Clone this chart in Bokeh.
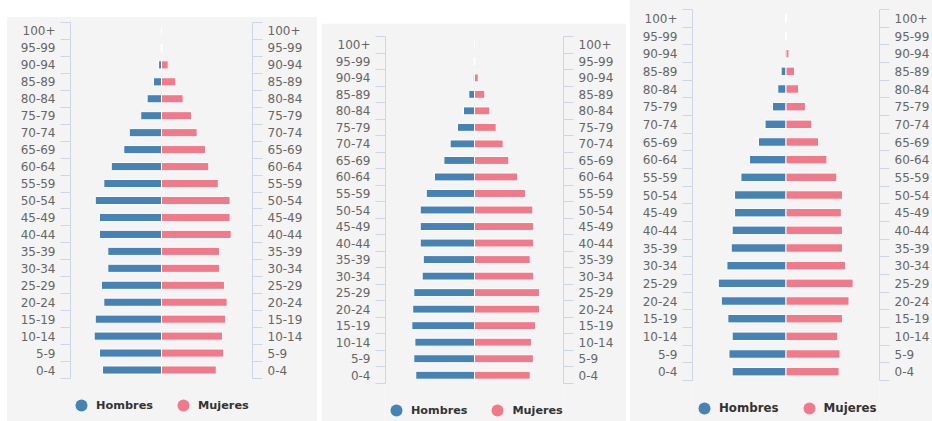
from bokeh.plotting import figure
from bokeh.layouts import row
from bokeh.models import FixedTicker, LinearAxis, Legend, LegendItem, Range1d
from bokeh.embed import file_html
from bokeh.resources import INLINE

# Age groups, bottom to top
age_groups = ["0-4", "5-9", "10-14", "15-19", "20-24", "25-29", "30-34", "35-39",
              "40-44", "45-49", "50-54", "55-59", "60-64", "65-69", "70-74", "75-79",
              "80-84", "85-89", "90-94", "95-99", "100+"]

# Panel 1 (% of population)
hombres_1 = [3.24, 3.41, 3.70, 3.64, 3.17, 3.30, 2.95, 2.95, 3.41, 3.41, 3.64,
             3.17, 2.76, 2.07, 1.77, 1.14, 0.79, 0.44, 0.16, 0.02, 0.0]
mujeres_1 = [3.01, 3.42, 3.35, 3.53, 3.61, 3.46, 3.19, 3.19, 3.83, 3.77, 3.77,
             3.12, 2.60, 2.42, 1.96, 1.65, 1.19, 0.79, 0.37, 0.05, 0.0]

# Panel 2
hombres_2 = [3.30, 3.41, 3.35, 3.52, 3.47, 3.41, 2.94, 2.88, 3.05, 3.05, 3.05,
             2.71, 2.25, 1.72, 1.37, 0.96, 0.62, 0.32, 0.07, 0.02, 0.0]
mujeres_2 = [3.13, 3.31, 3.20, 3.43, 3.65, 3.65, 3.33, 3.13, 3.33, 3.33, 3.28,
             2.87, 2.43, 1.93, 1.61, 1.22, 0.86, 0.58, 0.21, 0.02, 0.0]

# Panel 3
hombres_3 = [2.88, 3.05, 2.88, 3.11, 3.46, 3.62, 3.16, 2.93, 2.88, 2.75, 2.75,
             2.41, 1.95, 1.47, 1.12, 0.72, 0.44, 0.26, 0.07, 0.02, 0.0]
mujeres_3 = [2.84, 2.89, 2.77, 3.02, 3.37, 3.59, 3.19, 3.02, 3.02, 2.96, 3.02,
             2.72, 2.19, 1.74, 1.38, 1.04, 0.68, 0.46, 0.16, 0.02, 0.0]

series_names = ["Hombres", "Mujeres"]

BLUE = "#4682b4"
PINK = "#f07a8a"
BG = "#f4f4f4"
AXIS = "#ccd6eb"
LABEL = "#666666"


def pyramid(hombres, mujeres, width, height, top, left, right, rows_px,
            fig_margin, font_size, standoff, legend_font, legend_loc,
            white_top=0):
    n = len(age_groups)
    below_px = height - top - rows_px
    ext = n * below_px / rows_px
    p = figure(width=width, height=height,
               x_range=Range1d(-5, 5), y_range=Range1d(-ext, n),
               output_backend="svg", toolbar_location=None,
               x_axis_location=None, y_axis_location=None,
               min_border_top=top, min_border_right=right,
               min_border_bottom=0, min_border_left=left,
               background_fill_color=BG, border_fill_color=BG,
               outline_line_color=None, margin=fig_margin)
    if white_top:
        # white strip above the grey panel, grey below it
        p.border_fill_color = None
        p.styles = {"background": f"linear-gradient(to bottom, #ffffff 0px, #ffffff {white_top}px, "
                                  f"{BG} {white_top}px, {BG} 100%)"}
    p.grid.visible = False

    ypos = [i + 0.5 for i in range(n)]
    left_vals = [-v for v in hombres]
    # zero-size markers: only their legend glyphs (circles) are visible
    rh = p.scatter(x=left_vals, y=ypos, size=0, marker="circle",
                   fill_color=BLUE, line_color=BLUE, line_alpha=0)
    rm = p.scatter(x=mujeres, y=ypos, size=0, marker="circle",
                   fill_color=PINK, line_color=PINK, line_alpha=0)

    p.hbar(y=ypos, left=left_vals, right=0, height=0.48,
           fill_color=BLUE, line_color="white", line_width=1)
    p.hbar(y=ypos, left=0, right=mujeres, height=0.48,
           fill_color=PINK, line_color="white", line_width=1)

    ticker = FixedTicker(ticks=ypos, minor_ticks=list(range(n + 1)))
    overrides = {y: lab for y, lab in zip(ypos, age_groups)}
    for side in ("left", "right"):
        ax = LinearAxis(ticker=ticker, major_label_overrides=overrides,
                        bounds=(0, n),
                        axis_line_color=AXIS, axis_line_width=1,
                        major_tick_in=0, major_tick_out=0,
                        major_tick_line_color=None,
                        minor_tick_in=0, minor_tick_out=10,
                        minor_tick_line_color=AXIS,
                        major_label_standoff=standoff,
                        major_label_text_font="DejaVu Sans",
                        major_label_text_font_size=font_size,
                        major_label_text_color=LABEL)
        p.add_layout(ax, side)

    legend = Legend(items=[LegendItem(label=series_names[0], renderers=[rh]),
                           LegendItem(label=series_names[1], renderers=[rm])],
                    location=legend_loc, orientation="horizontal",
                    glyph_width=30, glyph_height=30, label_standoff=0,
                    spacing=15, padding=0, margin=0,
                    background_fill_alpha=0, border_line_color=None,
                    label_text_font="DejaVu Sans", label_text_font_style="bold",
                    label_text_font_size=legend_font, label_text_color="#333333")
    p.add_layout(legend)
    return p


# page body has no margin in Bokeh's file template: positions are absolute
p1 = pyramid(hombres_1, mujeres_1, 310, 412, 13, 63, 65, 356,
             (9, 0, 0, 7), "12px", 5, "11.3px", (-4, 1), white_top=8)
p2 = pyramid(hombres_2, mujeres_2, 305, 398, 13, 64, 63, 347,
             (23, 0, 0, 4), "12px", 5, "11.2px", (-4, -4))
p3 = pyramid(hombres_3, mujeres_3, 303, 425, 13, 63, 50, 371,
             (-4, 0, 0, 3), "12px", 5, "11.8px", (-3, -2))

layout = row(p1, p2, p3)

open("out.html", "w").write(file_html(layout, INLINE))
